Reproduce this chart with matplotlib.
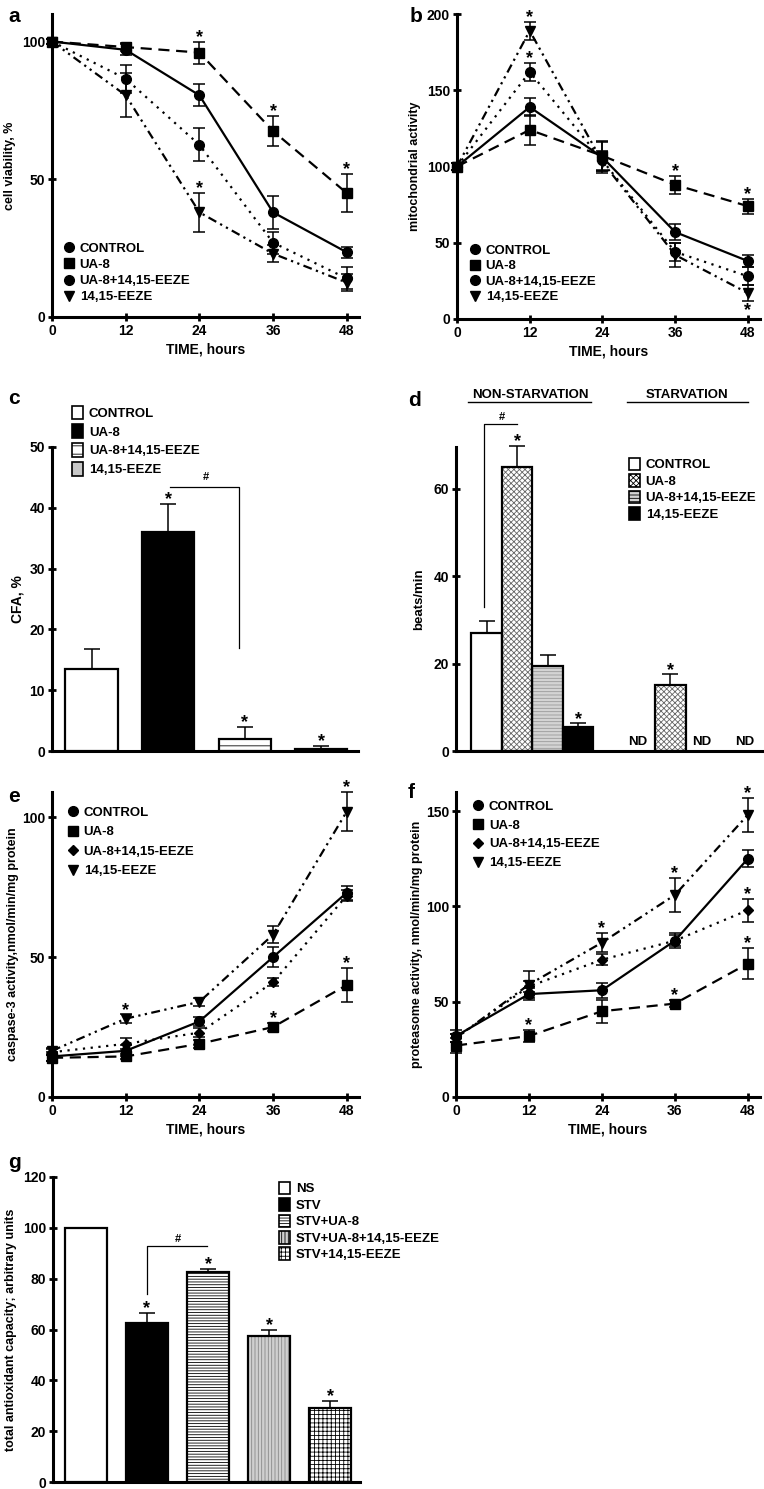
import matplotlib
matplotlib.use("Agg")
import matplotlib.pyplot as plt
from matplotlib.lines import Line2D
from matplotlib.patches import Patch

plt.rcParams['font.family'] = ['Liberation Sans', 'DejaVu Sans']
plt.rcParams['font.weight'] = 'bold'
plt.rcParams['axes.labelweight'] = 'bold'
plt.rcParams['hatch.linewidth'] = 0.6

W, H = 764, 1489

hours = [0, 12, 24, 36, 48]
groups = ['CONTROL', 'UA-8', 'UA-8+14,15-EEZE', '14,15-EEZE']

# a - cell viability
a_vals = [[100, 97, 80.5, 38, 23.5],
          [100, 98, 96, 67.5, 45],
          [100, 86.5, 62.5, 27, 14],
          [100, 80.5, 38, 23, 12.5]]
a_err = [[1, 2, 4, 6, 2],
         [1, 1.5, 4, 5.5, 7],
         [1, 5, 6, 4, 4],
         [1, 8, 7, 3, 3]]
a_stars = [(1, 2), (1, 3), (1, 4), (3, 2)]

# b - mitochondrial activity
b_vals = [[100, 139, 106, 57, 38],
          [100, 124, 107, 88, 74],
          [100, 162, 104, 44, 28],
          [100, 189, 103, 42, 17]]
b_err = [[2, 6, 10, 5, 4],
         [2, 10, 10, 6, 5],
         [2, 6, 6, 6, 6],
         [2, 6, 6, 8, 5]]
b_stars = [(3, 1), (2, 1), (1, 3), (1, 4), (3, 4, 'below')]

# c - CFA
c_vals = [13.5, 36, 2, 0.3]
c_err = [3.3, 4.6, 2, 0.6]
c_stars = [1, 2, 3]

# d - beats/min
d_vals = [27, 65, 19.5, 5.5]
d_err = [2.8, 4.8, 2.5, 0.8]
d_stars = [1, 3]
d_stv_val = 15
d_stv_err = 2.5
d_nd_pos = [4.95, 7.05, 8.45]

# e - caspase-3
e_vals = [[14.5, 16.5, 27, 50, 73],
          [14, 14.5, 19, 25, 40],
          [16, 19, 23, 41, 72],
          [16.5, 28, 34, 58, 102]]
e_err = [[1.5, 2, 1.5, 3.5, 2.5],
         [1, 1, 1.5, 1.5, 6],
         [1, 2, 1.5, 1.5, 2],
         [1, 1.5, 1.5, 3, 7]]
e_stars = [(3, 1), (3, 4), (1, 3), (1, 4)]

# f - proteasome
f_vals = [[32, 54, 56, 82, 125],
          [27, 32, 45, 49, 70],
          [31, 58, 72, 82, 98],
          [31, 59, 81, 106, 148]]
f_err = [[3, 3, 4, 4, 4.5],
         [4, 3, 6, 2, 8],
         [2, 3, 3, 3, 6],
         [2, 7, 5, 9, 9]]
f_stars = [(1, 1), (1, 3), (1, 4), (3, 2), (3, 3), (3, 4), (2, 4)]

# g - total antioxidant capacity
g_labels = ['NS', 'STV', 'STV+UA-8', 'STV+UA-8+14,15-EEZE', 'STV+14,15-EEZE']
g_vals = [100, 62.5, 82.5, 57.5, 29]
g_err = [0, 4, 1.3, 2.3, 2.8]
g_stars = [1, 2, 3, 4]

fig = plt.figure(figsize=(W / 100, H / 100), dpi=100)


def make_ax(x0, x1, y0, y1):
    return fig.add_axes([x0 / W, 1 - y1 / H, (x1 - x0) / W, (y1 - y0) / H])


def style_ax(ax, xticks=True):
    for s in ['top', 'right']:
        ax.spines[s].set_visible(False)
    for s in ['left', 'bottom']:
        ax.spines[s].set_linewidth(2.2)
    ax.tick_params(direction='inout', length=6, width=2, labelsize=10, pad=2)
    if not xticks:
        ax.tick_params(axis='x', bottom=False, labelbottom=False)
    for t in ax.get_xticklabels() + ax.get_yticklabels():
        t.set_fontweight('bold')


def star(ax, x, y, below=False):
    if below:
        ax.annotate('*', (x, y), xytext=(0, -1), textcoords='offset points', ha='center',
                    va='top', fontsize=13, fontweight='bold', annotation_clip=False)
    else:
        ax.annotate('*', (x, y), xytext=(0, -3), textcoords='offset points', ha='center',
                    va='bottom', fontsize=13, fontweight='bold', annotation_clip=False)


lstyles = ['-', (0, (5, 3)), (0, (1, 2.5)), (0, (4, 2, 1, 2, 1, 2))]


def line_panel(ax, vals, errs, stars, markers, ylim, yticks, ylabel, labelpad=4):
    for i in range(4):
        ax.errorbar(hours, vals[i], yerr=errs[i], color='black', ls=lstyles[i],
                    lw=1.6, marker=markers[i], ms=7 if markers[i] != 'D' else 5,
                    capsize=4, elinewidth=1.1, capthick=1.1, clip_on=False, zorder=3)
    for st in stars:
        i, j = st[0], st[1]
        if len(st) > 2:
            star(ax, hours[j], vals[i][j] - errs[i][j], below=True)
        else:
            star(ax, hours[j], vals[i][j] + errs[i][j])
    ax.set_xlim(0, 50)
    ax.set_ylim(*ylim)
    ax.set_xticks(hours)
    ax.set_yticks(yticks)
    ax.set_xlabel('TIME, hours', fontsize=10, labelpad=3)
    ax.set_ylabel(ylabel, fontsize=9, labelpad=labelpad)
    style_ax(ax)


def line_legend(ax, markers, x, y, spacing):
    handles = [Line2D([], [], ls='none', marker=m, color='black',
                      ms=7 if m != 'D' else 5) for m in markers]
    ax.legend(handles, groups, loc='upper left', bbox_to_anchor=(x / W, 1 - y / H),
              bbox_transform=fig.transFigure, frameon=False, handlelength=0.9,
              handletextpad=0.4, labelspacing=spacing, borderpad=0,
              prop={'weight': 'bold', 'size': 9.5})


# panel a
ax_a = make_ax(52, 359, 14, 317)
mk_ab = ['o', 's', 'o', 'v']
line_panel(ax_a, a_vals, a_err, a_stars, mk_ab, (0, 110), [0, 50, 100], 'cell viability, %')
line_legend(ax_a, mk_ab, 56, 236, 0.3)

# panel b
ax_b = make_ax(457, 760, 14, 319)
line_panel(ax_b, b_vals, b_err, b_stars, mk_ab, (0, 200), [0, 50, 100, 150, 200],
           'mitochondrial activity')
line_legend(ax_b, mk_ab, 462, 238, 0.25)

# panel e
mk_ef = ['o', 's', 'D', 'v']
ax_e = make_ax(52, 359, 792, 1097)
line_panel(ax_e, e_vals, e_err, e_stars, mk_ef, (0, 109), [0, 50, 100],
           'caspase-3 activity,nmol/min/mg protein', labelpad=2)
line_legend(ax_e, mk_ef, 60, 800, 0.55)

# panel f
ax_f = make_ax(456, 760, 792, 1097)
line_panel(ax_f, f_vals, f_err, f_stars, mk_ef, (0, 160), [0, 50, 100, 150],
           'proteasome activity, nmol/min/mg protein', labelpad=2)
line_legend(ax_f, mk_ef, 465, 794, 0.5)


def hbar(ax, x, h, w, face, hatch=None, hcol='black', err=0):
    if hatch:
        ax.bar(x, h, w, color=face, edgecolor=hcol, hatch=hatch, lw=0, zorder=2)
        ax.bar(x, h, w, fill=False, edgecolor='black', lw=1.6, zorder=3)
    else:
        ax.bar(x, h, w, color=face, edgecolor='black', lw=1.6, zorder=3)
    if err:
        ax.errorbar(x, h, yerr=[[0], [err]], color='black', capsize=6, clip_on=False,
                    elinewidth=1.1, capthick=1.1, zorder=1, ls='none')


# panel c
ax_c = make_ax(52, 358, 447, 751)
c_face = ['white', 'black', 'white', '#c8c8c8']
c_hatch = [None, None, '--', None]
for i in range(4):
    hbar(ax_c, i, c_vals[i], 0.68, c_face[i], c_hatch[i], err=c_err[i])
for i in c_stars:
    star(ax_c, i, c_vals[i] + c_err[i])
ax_c.plot([1.03, 1.93, 1.93], [43.5, 43.5, 17], color='black', lw=0.9, clip_on=False)
ax_c.text(1.5, 44.2, '#', ha='center', va='bottom', fontsize=8)
ax_c.set_xlim(-0.516, 3.48)
ax_c.set_ylim(0, 50)
ax_c.set_yticks(range(0, 51, 10))
ax_c.set_ylabel('CFA, %', fontsize=10, labelpad=4)
style_ax(ax_c, xticks=False)
c_handles = [Patch(facecolor=c_face[i], edgecolor='black', hatch=c_hatch[i], lw=1.2)
             for i in range(4)]
ax_c.legend(c_handles, groups, loc='upper left', bbox_to_anchor=(65 / W, 1 - 399 / H),
            bbox_transform=fig.transFigure, frameon=False, handlelength=0.9,
            handleheight=1.2, handletextpad=0.4, labelspacing=0.35, borderpad=0,
            prop={'weight': 'bold', 'size': 9.5})

# panel d
ax_d = make_ax(456, 762, 447, 751)
d_face = ['white', 'white', '#d4d4d4', 'black']
d_hatch = [None, 'xxxxxx', '-----', None]
d_hcol = ['black', '#666666', '#999999', 'black']
for i in range(4):
    hbar(ax_d, i, d_vals[i], 1.0, d_face[i], d_hatch[i], d_hcol[i], err=d_err[i])
hbar(ax_d, 6.03, d_stv_val, 1.0, 'white', 'xxxxxx', '#666666', err=d_stv_err)
for i in d_stars:
    star(ax_d, i, d_vals[i] + d_err[i])
star(ax_d, 6.03, d_stv_val + d_stv_err)
for p in d_nd_pos:
    ax_d.text(p, 0.8, 'ND', ha='center', va='bottom', fontsize=9.5, fontweight='bold')
ax_d.plot([-0.08, -0.08, 1.0], [33, 74.7, 74.7], color='black', lw=0.9, clip_on=False)
ax_d.text(0.5, 75.2, '#', ha='center', va='bottom', fontsize=8)
ax_d.set_xlim(-1.0, 9.03)
ax_d.set_ylim(0, 69.5)
ax_d.set_yticks([0, 20, 40, 60])
ax_d.set_ylabel('beats/min', fontsize=9.5, labelpad=6)
style_ax(ax_d, xticks=False)
d_handles = [Patch(facecolor=d_face[i], edgecolor='black', hatch=d_hatch[i], lw=1.2)
             for i in range(4)]
ax_d.legend(d_handles, groups, loc='upper left', bbox_to_anchor=(622 / W, 1 - 451 / H),
            bbox_transform=fig.transFigure, frameon=False, handlelength=0.9,
            handleheight=1.1, handletextpad=0.4, labelspacing=0.2, borderpad=0,
            prop={'weight': 'bold', 'size': 9.5})
fig.text(530 / W, 1 - 395 / H, 'NON-STARVATION', ha='center', va='center', fontsize=9.5)
fig.text(687 / W, 1 - 395 / H, 'STARVATION', ha='center', va='center', fontsize=9.5)
fig.add_artist(Line2D([468 / W, 591 / W], [1 - 402 / H] * 2, color='black', lw=1))
fig.add_artist(Line2D([627 / W, 748 / W], [1 - 402 / H] * 2, color='black', lw=1))

# panel g
ax_g = make_ax(53, 360, 1177, 1482)
g_face = ['white', 'black', 'white', '#cfcfcf', 'white']
g_hatch = [None, None, '------', '|||||', '++++']
g_hcol = ['black', 'black', 'black', '#888888', 'black']
for i in range(5):
    hbar(ax_g, i, g_vals[i], 0.69, g_face[i], g_hatch[i], g_hcol[i], err=g_err[i])
for i in g_stars:
    star(ax_g, i, g_vals[i] + g_err[i])
ax_g.plot([1, 1, 1.98], [74, 93, 93], color='black', lw=0.9, clip_on=False)
ax_g.text(1.5, 93.8, '#', ha='center', va='bottom', fontsize=8)
ax_g.set_xlim(-0.54, 4.49)
ax_g.set_ylim(0, 120)
ax_g.set_yticks(range(0, 121, 20))
ax_g.set_ylabel('total antioxidant capacity; arbitrary units', fontsize=9, labelpad=4)
style_ax(ax_g, xticks=False)
g_handles = [Patch(facecolor=g_face[i], edgecolor='black', hatch=g_hatch[i], lw=1.2)
             for i in range(5)]
ax_g.legend(g_handles, g_labels, loc='upper left', bbox_to_anchor=(272 / W, 1 - 1175 / H),
            bbox_transform=fig.transFigure, frameon=False, handlelength=0.9,
            handleheight=1.1, handletextpad=0.4, labelspacing=0.2, borderpad=0,
            prop={'weight': 'bold', 'size': 9.5})

# panel letters
for lt, x, y in [('a', 8, 16), ('b', 410, 16), ('c', 8, 398), ('d', 408, 400),
                 ('e', 8, 797), ('f', 408, 793), ('g', 8, 1163)]:
    fig.text(x / W, 1 - y / H, lt, fontsize=15, fontweight='bold', va='center', ha='left')

fig.savefig('out.png', dpi=100)
